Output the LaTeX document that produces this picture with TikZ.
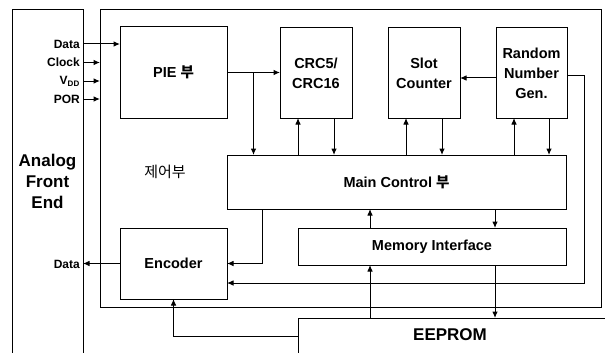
\documentclass[tikz,border=0pt]{standalone}
\usepackage{fontspec}
\setmainfont{Liberation Sans}
\newfontfamily\kr{Noto Sans CJK KR}
\usetikzlibrary{arrows.meta,calc}

\begin{document}
\begin{tikzpicture}[x=1pt,y=-1pt]
        \tikzstyle{block}=[draw, line width=1pt, inner sep=0pt, outer sep=0pt, align=center, font=\bfseries\fontsize{14.5}{20}\selectfont]
        \tikzstyle{sig}=[anchor=east, inner sep=0pt, font=\bfseries\fontsize{12}{14}\selectfont]
        \tikzstyle{link}=[line width=1pt, -{Latex[length=6.5pt,width=5.5pt]}]

        \useasboundingbox (0,0) rectangle (605,353);
        \clip (0,0) rectangle (605,353);

        \node[block, minimum width=71, minimum height=360] (afe) at (47.5,190) {};
        \node[align=center, font=\bfseries\fontsize{17}{21}\selectfont] (afelbl) at (47.5,181) {Analog\\Front\\End};
        \node[block, minimum width=501, minimum height=297] (ctrl) at (350.5,158.5) {};
        \node[font=\kr\fontsize{15}{18}\selectfont] (ctrllbl) at (165,172) {제어부};

        \node[block, minimum width=107, minimum height=91] (pie) at (173.5,72.5) {PIE {\kr 부}};
        \node[block, minimum width=72, minimum height=90] (crc) at (316,73) {CRC5/\\CRC16};
        \node[block, minimum width=72, minimum height=90] (slot) at (424,73) {Slot\\Counter};
        \node[block, minimum width=71, minimum height=90] (rng) at (531.5,73) {Random\\Number\\Gen.};
        \node[block, minimum width=339, minimum height=54] (main) at (396.5,182) {Main Control {\kr 부}};
        \node[block, minimum width=268, minimum height=37] (mem) at (432,246.5) {Memory Interface};
        \node[block, minimum width=107, minimum height=71] (enc) at (173.5,263.5) {Encoder};
        \node[block, minimum width=322, minimum height=36] (eeprom) at (459,336) {};
        \node[font=\bfseries\fontsize{17}{20}\selectfont] (eepromlbl) at (450,335) {EEPROM};

        \node[sig] (din) at (80,44) {Data};
        \node[sig] (clk) at (80,62.5) {Clock};
        \node[sig] (vdd) at (80,81) {V\textsubscript{DD}};
        \node[sig] (por) at (80,99) {POR};
        \node[sig] (dout) at (80,264) {Data};

        % front end signals
        \draw[link] (afe.east |- din) -- (pie.west |- din);
        \foreach \s in {clk,vdd,por}
            \draw[link] (afe.east |- \s) -- (ctrl.west |- \s);
        \draw[link] (enc.west) -- (afe.east |- enc.west);

        % upper blocks
        \draw[link] (pie.east) -- (pie.east -| crc.west);
        \coordinate (split) at ($(pie.east)!0.5!(pie.east -| crc.west)$);
        \draw[link] (split) -- (split |- main.north);
        \foreach \b in {crc,slot,rng}{
            \coordinate (up\b) at ([xshift=18pt]\b.south west);
            \coordinate (dn\b) at ([xshift=-18pt]\b.south east);
            \draw[link] (up\b |- main.north) -- (up\b);
            \draw[link] (dn\b) -- (dn\b |- main.north);
        }
        \draw[link] ([yshift=-5pt]rng.west) -- ([yshift=-5pt]rng.west -| slot.east);
        \coordinate (loop) at (584,283);
        \draw[link] ([yshift=-3pt]rng.east) -| (loop) -- (loop -| enc.east);

        % lower blocks
        \coordinate (m2e) at ([xshift=35pt]main.south west);
        \draw[link] (m2e) |- (enc.east);
        \coordinate (mup) at ([xshift=72pt]mem.north west);
        \coordinate (mdn) at ([xshift=-71pt]mem.north east);
        \draw[link] (mup) -- (mup |- main.south);
        \draw[link] (mdn |- main.south) -- (mdn);
        \draw[link] (mup |- eeprom.north) -- (mup |- mem.south);
        \draw[link] (mdn |- mem.south) -- (mdn |- eeprom.north);
        \draw[link] (eeprom.west) -| (enc.south);
    \end{tikzpicture}
\end{document}
